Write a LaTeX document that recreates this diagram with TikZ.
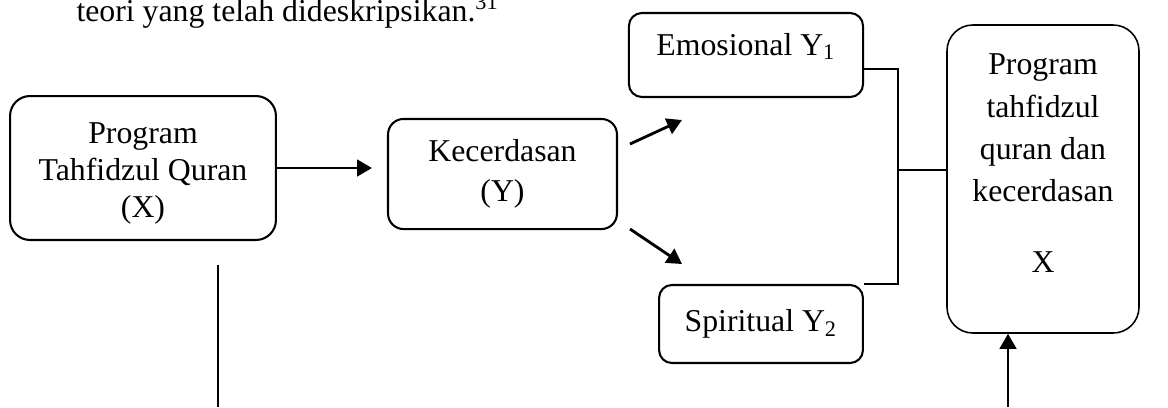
\documentclass[tikz,border=0pt]{standalone}
\usepackage{fontspec}
\setmainfont{Liberation Serif}
\usetikzlibrary{arrows.meta}
\tikzset{>={Triangle[length=5.8pt,width=6.4pt]}}
\tikzset{box/.style={draw, line width=0.8pt, align=center, inner sep=0pt}}

\begin{document}
\begin{tikzpicture}[x=0.387pt, y=-0.387pt, font=\fontsize{12.3}{14.3}\selectfont]
    \useasboundingbox (0,0) rectangle (1168,407);
    \node at (76,21) [anchor=base west, inner sep=0pt] (teori) {teori yang telah dideskripsikan.\textsuperscript{31}};

    \node at (143,168) [box, rounded corners=7.7pt, minimum width=102.9pt, minimum height=55.7pt] (prog) {\rule{0pt}{12.5pt}Program\\ Tahfidzul Quran\\ (X)};
    \node at (502.5,174) [box, rounded corners=6pt, minimum width=88.6pt, minimum height=42.6pt] (kec) {Kecerdasan\\[1.2pt] (Y)};
    \node at (746,55) [box, rounded corners=5pt, minimum width=90.6pt, minimum height=32.5pt, text height=8pt, text depth=8pt] (emo) {Emosional Y\textsubscript{1}};
    \node at (761,324) [box, rounded corners=5pt, minimum width=78.9pt, minimum height=30.2pt] (spi) {Spiritual Y\textsubscript{2}};
    \node at (1043,179) [box, line width=0.6pt, rounded corners=10pt, minimum width=74.3pt, minimum height=119.2pt, font=\fontsize{12.3}{16.4}\selectfont] (rbox) {Program\\ tahfidzul\\ quran dan\\ kecerdasan\\[10.8pt] X\\[-4pt] \mbox{}};

    % arrows out of the boxes
    \draw [->, line width=1.1pt, shorten >=5.8pt] (prog.east) -- (prog.east -| kec.west);
    \coordinate (u1) at (630,144);
    \coordinate (u2) at (682,120);
    \coordinate (d1) at (630,229);
    \coordinate (d2) at (682,264);
    \draw [->, line width=1.1pt] (u1) -- (u2);
    \draw [->, line width=1.1pt] (d1) -- (d2);

    % bracket to the right box
    \coordinate (j) at (898,170);
    \draw [line width=0.8pt] ([yshift=-5.4pt]emo.east) -| (j |- spi.north) -- (spi.north east);
    \draw [line width=0.8pt] (j) -- (j -| rbox.west);

    % lines at the bottom
    \coordinate (b1) at (218,265);
    \coordinate (b2) at (218,407);
    \coordinate (b3) at (1008,407);
    \draw [line width=0.8pt] (b1) -- (b2);
    \draw [->, line width=1.1pt] (b3) -- (b3 |- rbox.south);
\end{tikzpicture}
\end{document}
